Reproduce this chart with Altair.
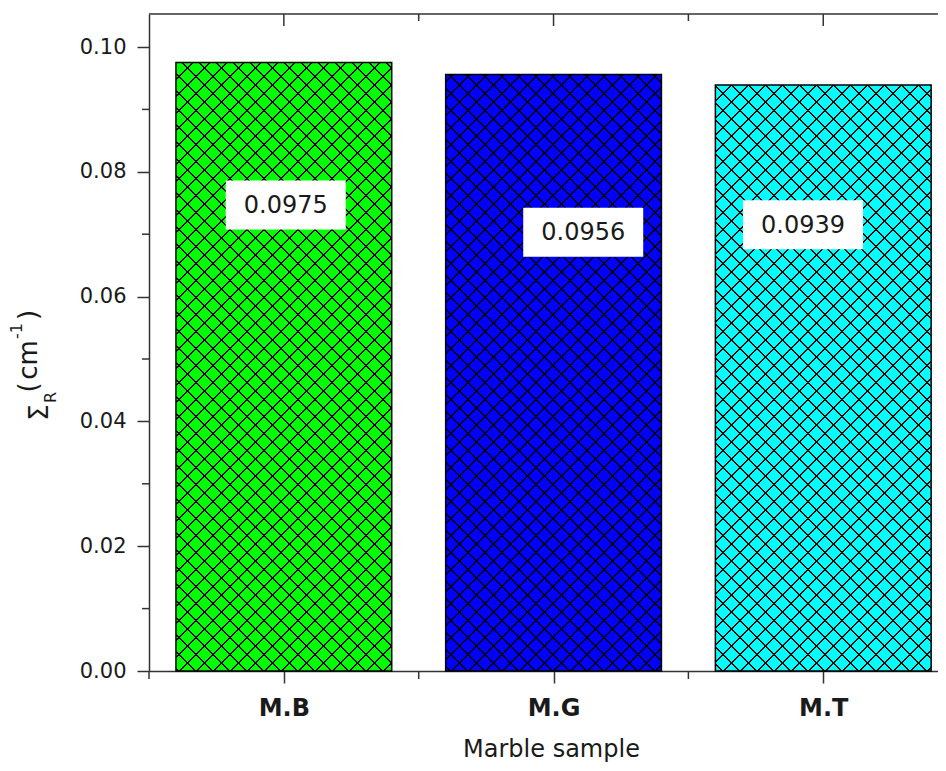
import altair as alt
import pandas as pd

# ---------------- data ----------------
samples = ["M.B", "M.G", "M.T"]
sigma_r = [0.0975, 0.0956, 0.0939]
value_text = ["0.0975", "0.0956", "0.0939"]
bar_fill = ["#00FF00", "#0000FF", "#00FFFF"]
y_major = [0.00, 0.02, 0.04, 0.06, 0.08, 0.10]
y_minor = [0.01, 0.03, 0.05, 0.07, 0.09]
x_major = [1, 2, 3]
x_minor = [1.5, 2.5]
# annotation anchors (data units) for the value boxes
label_x = [1.007, 2.11, 2.925]
label_y = [0.0747, 0.0703, 0.0715]

# ---------------- layout ----------------
PAD_L, PAD_T, PAD_R, PAD_B = 141, 6, 0, 92
W, H = 789, 657
PX_X = 269.7
X_DOM = [0.5, 0.5 + W / PX_X]
Y_DOM = [0.0, 0.10529]
PX_Y = H / Y_DOM[1]
BAR_HALF = 0.4
BOX_W, BOX_H = 120, 49
FONT = "DejaVu Sans"
INK = "#1a1a1a"
AX = "#333333"
HATCH_P = 17.0
HATCH_T = 2.0

xs = alt.Scale(domain=X_DOM, nice=False, zero=False)
ys = alt.Scale(domain=Y_DOM, nice=False, zero=False)

idx = list(range(1, len(samples) + 1))
bars_df = pd.DataFrame({
    "sample": samples,
    "idx": idx,
    "v": sigma_r,
    "x0": [i - BAR_HALF for i in idx],
    "x1": [i + BAR_HALF for i in idx],
    "y0": [0.0] * len(samples),
})

labels_df = pd.DataFrame({
    "t": value_text,
    "lx": label_x,
    "ly": label_y,
    "bx0": [x - BOX_W / 2 / PX_X for x in label_x],
    "bx1": [x + BOX_W / 2 / PX_X for x in label_x],
    "by0": [y - BOX_H / 2 / PX_Y for y in label_y],
    "by1": [y + BOX_H / 2 / PX_Y for y in label_y],
})


def hatch(col_bg, col_line, wb, hb, phase, direction):
    """Linear gradient with hard stops -> 45 degree stripes (pixel aligned)."""
    S = wb + hb
    k = S / (wb + hb * hb / wb)
    stops = [{"offset": 0.0, "color": col_bg}]
    c = phase % HATCH_P - HATCH_P
    last = 0.0
    while c - HATCH_T / 2 < S:
        a = max((c - HATCH_T / 2) / S, last)
        b = min((c + HATCH_T / 2) / S, 1.0)
        if b > a:
            a = round(a, 7)
            b = round(b, 7)
            stops += [
                {"offset": a, "color": col_bg},
                {"offset": a, "color": col_line},
                {"offset": b, "color": col_line},
                {"offset": b, "color": col_bg},
            ]
            last = b
        c += HATCH_P
    stops.append({"offset": 1.0, "color": col_bg})
    if direction == "A":
        return {"gradient": "linear", "x1": 0, "y1": 0, "x2": k, "y2": k * hb / wb, "stops": stops}
    return {"gradient": "linear", "x1": 0, "y1": 1, "x2": k, "y2": 1 - k * hb / wb, "stops": stops}


x_axis = alt.Axis(
    values=x_major,
    labelExpr="[''," + ",".join("'%s'" % s for s in samples) + "][datum.value]",
    tickSize=12, tickWidth=1.5, tickColor=AX,
    domainColor=AX, domainWidth=1.5,
    labelFont=FONT, labelFontSize=24, labelFontWeight="bold", labelColor=INK,
    labelBaseline="alphabetic", labelPadding=32,
    grid=False,
    title="Marble sample", titleFont=FONT, titleFontSize=24, titleFontWeight="normal",
    titleColor=INK, titleX=402, titleY=85, titleAlign="center", titleBaseline="alphabetic",
)
y_axis = alt.Axis(
    values=y_major, format=".2f",
    tickSize=12, tickWidth=1.5, tickColor=AX,
    domainColor=AX, domainWidth=1.5,
    labelFont=FONT, labelFontSize=21, labelColor=INK, labelPadding=11,
    grid=False, title=None,
)

layers = []
wb = 2 * BAR_HALF * PX_X
for i, s in enumerate(samples):
    hb = sigma_r[i] * PX_Y
    X0 = 8 + PAD_L + (idx[i] - BAR_HALF - X_DOM[0]) * PX_X
    Y0 = 8 + PAD_T + (Y_DOM[1] - sigma_r[i]) * PX_Y
    phA = 0.5 - (X0 + Y0)
    phB = 0.5 - (X0 - Y0 - hb)
    gA = hatch(bar_fill[i], "#000000", wb, hb, phA, "A")
    gB = hatch("rgba(0,0,0,0)", "#000000", wb, hb, phB, "B")
    first = i == 0
    base = alt.Chart(bars_df).transform_filter(alt.datum.sample == s).mark_rect(
        fill=gA, strokeWidth=0
    ).encode(
        x=alt.X("x0:Q", scale=xs, axis=x_axis if first else None),
        x2="x1:Q",
        y=alt.Y("v:Q", scale=ys, axis=y_axis if first else None),
        y2="y0:Q",
    )
    over = alt.Chart(bars_df).transform_filter(alt.datum.sample == s).mark_rect(
        fill=gB, stroke="#000000", strokeWidth=1.5
    ).encode(
        x=alt.X("x0:Q", scale=xs, axis=None),
        x2="x1:Q",
        y=alt.Y("v:Q", scale=ys, axis=None),
        y2="y0:Q",
    )
    layers += [base, over]

boxes = alt.Chart(labels_df).mark_rect(fill="white", strokeWidth=0).encode(
    x=alt.X("bx0:Q", scale=xs, axis=None), x2="bx1:Q",
    y=alt.Y("by0:Q", scale=ys, axis=None), y2="by1:Q",
)
texts = alt.Chart(labels_df).mark_text(
    font=FONT, fontSize=24, color=INK, align="center", baseline="middle", dy=1
).encode(
    x=alt.X("lx:Q", scale=xs, axis=None),
    y=alt.Y("ly:Q", scale=ys, axis=None),
    text="t:N",
)
layers += [boxes, texts]

# minor ticks on y (outward)
ymin_df = pd.DataFrame({"v": y_minor})
layers.append(alt.Chart(ymin_df).mark_rule(color=AX, strokeWidth=1.5).encode(
    y=alt.Y("v:Q", scale=ys, axis=None), x=alt.value(-7), x2=alt.value(0)))
# minor ticks on bottom x (outward)
xmin_df = pd.DataFrame({"x": [X_DOM[0]] + x_minor})
layers.append(alt.Chart(xmin_df).mark_rule(color=AX, strokeWidth=1.5).encode(
    x=alt.X("x:Q", scale=xs, axis=None), y=alt.value(H), y2=alt.value(H + 8)))
# top frame line and inward ticks
layers.append(alt.Chart(pd.DataFrame({"a": [0]})).mark_rule(color=AX, strokeWidth=1.5).encode(
    x=alt.value(0), x2=alt.value(W), y=alt.value(0)))
xtop_df = pd.DataFrame({"x": x_major})
layers.append(alt.Chart(xtop_df).mark_rule(color=AX, strokeWidth=1.5).encode(
    x=alt.X("x:Q", scale=xs, axis=None), y=alt.value(0), y2=alt.value(12)))
xtopm_df = pd.DataFrame({"x": x_minor})
layers.append(alt.Chart(xtopm_df).mark_rule(color=AX, strokeWidth=1.5).encode(
    x=alt.X("x:Q", scale=xs, axis=None), y=alt.value(0), y2=alt.value(7)))

# y-axis title: Sigma_R (cm^-1), rotated
title_parts = [
    ("\u03a3", -101, 398.5, 26),
    ("R", -93, 383.5, 16),
    ("(", -112, 373.5, 26),
    ("cm", -112, 346, 26),
    ("-1", -127, 317, 16),
    (")", -112, 301, 26),
]
for txt, px, py, fs in title_parts:
    layers.append(alt.Chart(pd.DataFrame({"a": [0]})).mark_text(
        text=txt, font=FONT, fontSize=fs, color=INK, angle=270,
        align="center", baseline="alphabetic"
    ).encode(x=alt.value(px), y=alt.value(py)))

chart = alt.layer(*layers).resolve_axis(
    x="independent", y="independent"
).properties(
    width=W, height=H,
    autosize=alt.AutoSizeParams(type="none"),
    padding={"left": PAD_L, "top": PAD_T, "right": PAD_R, "bottom": PAD_B},
    background="white",
).configure_view(stroke=None)

chart.save("out.html", embed_options={"renderer": "svg", "actions": False})
